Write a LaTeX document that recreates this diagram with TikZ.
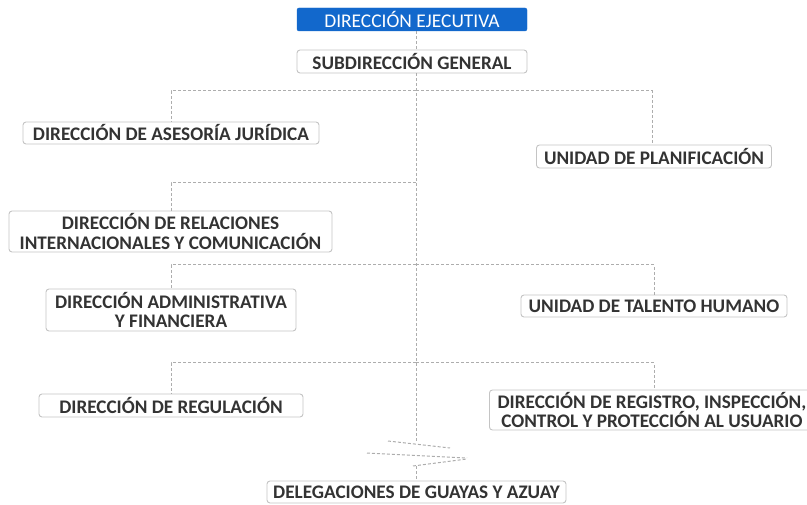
\documentclass[tikz,border=0pt]{standalone}
\usepackage{fontspec}
\setmainfont{Carlito}
\definecolor{ejblue}{HTML}{1268CC}
\definecolor{boxline}{HTML}{C4C4C4}
\definecolor{txt}{HTML}{333333}
\definecolor{conn}{HTML}{ADADAD}
\begin{document}
\begin{tikzpicture}[x=1pt,y=-1pt,
  unit/.style={draw=boxline,line width=0.9pt,rounded corners=3pt,fill=white,
    text=txt,font=\fontsize{19.2}{19.5}\selectfont\bfseries,align=center,inner sep=0pt},
  headbox/.style={draw=ejblue,fill=ejblue,rounded corners=2pt,text=white,
    font=\fontsize{19.4}{19.5}\selectfont,inner sep=0pt},
  link/.style={draw=conn,line width=1pt,dash pattern=on 3pt off 2pt}]
\useasboundingbox (0,0) rectangle (807,505);
% nodes
\node[headbox,minimum width=230pt,minimum height=23pt] (ej) at (412,19.5) {DIRECCIÓN EJECUTIVA};
\node[unit,minimum width=230pt,minimum height=23pt] (sub) at (412,61.5) {SUBDIRECCIÓN GENERAL};
\node[unit,minimum width=296pt,minimum height=22pt] (jur) at (171,133) {DIRECCIÓN DE ASESORÍA JURÍDICA};
\node[unit,minimum width=235pt,minimum height=23pt] (plan) at (654,156.5) {UNIDAD DE PLANIFICACIÓN};
\node[unit,minimum width=323pt,minimum height=41pt] (rel) at (170.5,231.5) {DIRECCIÓN DE RELACIONES\\INTERNACIONALES Y COMUNICACIÓN};
\node[unit,minimum width=250pt,minimum height=42pt] (adm) at (171,310) {DIRECCIÓN ADMINISTRATIVA\\Y FINANCIERA};
\node[unit,minimum width=266pt,minimum height=22pt] (tal) at (654,306) {UNIDAD DE TALENTO HUMANO};
\node[unit,minimum width=264pt,minimum height=23pt] (reg) at (171,405.5) {DIRECCIÓN DE REGULACIÓN};
\node[unit,minimum width=330pt,minimum height=40pt,anchor=west] (ins) at (489,410) {\hspace*{-5pt}DIRECCIÓN DE REGISTRO, INSPECCIÓN,\\\hspace*{-5pt}CONTROL Y PROTECCIÓN AL USUARIO};
\node[unit,minimum width=299pt,minimum height=22pt] (del) at (416.5,492) {DELEGACIONES DE GUAYAS Y AZUAY};
% branch points on the spine
\coordinate (b1) at (416,91);
\coordinate (b2) at (416,183);
\coordinate (b3) at (416,265);
\coordinate (b4) at (416,363);
\coordinate (z0) at (416,442);
\coordinate (z1) at (416,466);
% connectors
\draw[link] (ej.south -| b1) -- (sub.north -| b1);
\draw[link] (sub.south -| b1) -- (z0);
\draw[link] (b1) -| (jur.north);
\draw[link] (b1) -| ([xshift=-2pt]plan.north);
\draw[link] (b2) -| (rel.north -| jur.north);
\draw[link] (b3) -| (adm.north);
\draw[link] (b3) -| (tal.north);
\draw[link] (b4) -| (reg.north);
\draw[link] (b4) -| (ins.north -| tal.north);
% break symbol
\draw[link] (388,441) -- (450,448);
\draw[link] (367,453) -- (467,458);
\draw[link] (413,466) -- (467,459);
\draw[link] (z1) -- (del.north -| z1);
\end{tikzpicture}
\end{document}
